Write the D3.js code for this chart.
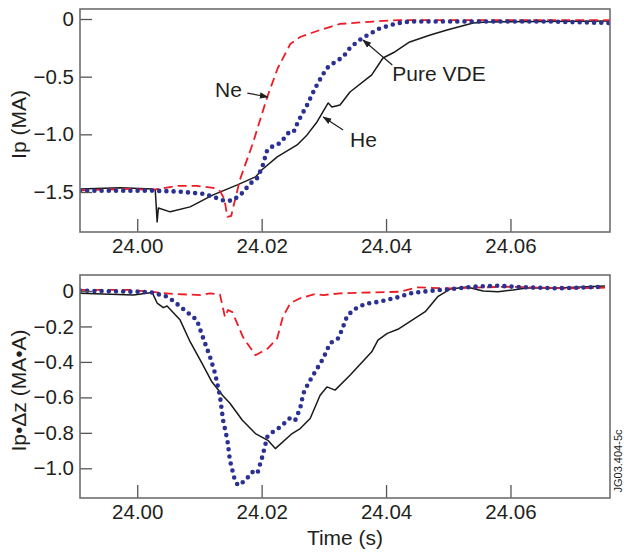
<!DOCTYPE html>
<html>
<head>
<meta charset="utf-8">
<script src="https://d3js.org/d3.v7.min.js"></script>
<style>
    body { margin: 0; background: #fff; }
    svg text { font-family: "Liberation Sans", Arial, sans-serif; fill: #231f20; }
    .axis text { font-size: 20.5px; }
    .axis line { stroke: #555; stroke-width: 1.3; }
    .axis path { display: none; }
    .axis-label { font-size: 21px; }
    .note { font-size: 21px; }
</style>
</head>
<body>
<div id="vis"></div>
<script>
    // time axis (s)
    var timeTicks = [24.00, 24.02, 24.04, 24.06];
    var ipTicks = [0, -0.5, -1.0, -1.5];
    var ipdzTicks = [0, -0.2, -0.4, -0.6, -0.8, -1.0];

    // Ip (MA), [time, value]
    var ipHe = [[23.9908,-1.473],[23.9973,-1.464],[24.0024,-1.473],[24.0029,-1.482],[24.0032,-1.759],
        [24.0034,-1.638],[24.0053,-1.672],[24.0085,-1.629],[24.0122,-1.525],[24.0161,-1.438],
        [24.0190,-1.369],[24.0201,-1.305],[24.0225,-1.196],[24.0257,-1.092],[24.0273,-1.005],
        [24.0289,-0.893],[24.0307,-0.728],[24.0313,-0.763],[24.0326,-0.745],[24.0342,-0.633],
        [24.0377,-0.485],[24.0395,-0.338],[24.0414,-0.286],[24.0438,-0.199],[24.0471,-0.139],
        [24.0498,-0.095],[24.0540,-0.035],[24.0562,-0.026],[24.0760,-0.017]];
    var ipNe = [[23.9908,-1.486],[23.9989,-1.473],[24.0024,-1.482],[24.0064,-1.447],[24.0096,-1.447],
        [24.0122,-1.464],[24.0133,-1.491],[24.0140,-1.561],[24.0145,-1.716],[24.0151,-1.708],
        [24.0165,-1.395],[24.0186,-1.075],[24.0209,-0.676],[24.0226,-0.425],[24.0246,-0.217],
        [24.0262,-0.156],[24.0294,-0.095],[24.0326,-0.043],[24.0379,-0.022],[24.0422,-0.009],
        [24.0760,-0.009]];
    var ipVde = [[23.9908,-1.490],[24.0024,-1.488],[24.0069,-1.497],[24.0106,-1.516],[24.0122,-1.542],
        [24.0141,-1.577],[24.0154,-1.573],[24.0169,-1.508],[24.0181,-1.430],[24.0193,-1.378],
        [24.0201,-1.283],[24.0209,-1.135],[24.0217,-1.106],[24.0230,-1.075],[24.0243,-0.988],
        [24.0251,-0.985],[24.0259,-0.884],[24.0273,-0.747],[24.0286,-0.599],[24.0297,-0.494],
        [24.0305,-0.425],[24.0318,-0.373],[24.0331,-0.329],[24.0342,-0.251],[24.0355,-0.191],
        [24.0366,-0.153],[24.0390,-0.081],[24.0418,-0.037],[24.0438,-0.022],[24.0663,-0.022],
        [24.0760,-0.035]];

    // Ip*dz (MA*A), [time, value]
    var ipdzHe = [[23.9908,-0.013],[23.9994,-0.023],[24.0024,-0.008],[24.0032,-0.068],[24.0042,-0.094],
        [24.0048,-0.085],[24.0069,-0.164],[24.0085,-0.286],[24.0104,-0.407],[24.0120,-0.512],
        [24.0137,-0.588],[24.0149,-0.633],[24.0169,-0.729],[24.0190,-0.804],[24.0210,-0.842],
        [24.0222,-0.889],[24.0249,-0.804],[24.0262,-0.776],[24.0278,-0.719],[24.0294,-0.588],
        [24.0305,-0.541],[24.0318,-0.559],[24.0342,-0.475],[24.0377,-0.343],[24.0387,-0.277],
        [24.0402,-0.239],[24.0419,-0.216],[24.0463,-0.117],[24.0483,-0.032],[24.0503,0.011],
        [24.0530,0.023],[24.0556,0.000],[24.0580,-0.004],[24.0604,0.006],[24.0626,0.017],
        [24.0675,0.017],[24.0752,0.028]];
    var ipdzNe = [[23.9908,0.006],[23.9989,0.006],[24.0032,-0.008],[24.0058,-0.017],[24.0104,-0.023],
        [24.0117,-0.013],[24.0133,-0.020],[24.0141,-0.147],[24.0146,-0.107],[24.0153,-0.119],
        [24.0170,-0.260],[24.0190,-0.362],[24.0210,-0.324],[24.0225,-0.267],[24.0234,-0.147],
        [24.0246,-0.069],[24.0262,-0.041],[24.0286,-0.017],[24.0299,-0.023],[24.0326,-0.013],
        [24.0422,-0.004],[24.0450,0.020],[24.0503,0.015],[24.0540,0.019],[24.0594,0.024],
        [24.0647,0.019],[24.0691,0.015],[24.0752,0.019]];
    var ipdzVde = [[23.9908,0.002],[24.0021,-0.006],[24.0048,-0.032],[24.0058,-0.056],[24.0080,-0.119],
        [24.0096,-0.164],[24.0106,-0.266],[24.0117,-0.371],[24.0125,-0.463],[24.0133,-0.593],
        [24.0138,-0.729],[24.0145,-0.842],[24.0149,-0.955],[24.0157,-1.068],[24.0162,-1.096],
        [24.0173,-1.071],[24.0185,-1.021],[24.0193,-1.030],[24.0201,-0.936],[24.0209,-0.823],
        [24.0218,-0.795],[24.0230,-0.767],[24.0246,-0.715],[24.0254,-0.729],[24.0262,-0.661],
        [24.0267,-0.578],[24.0275,-0.521],[24.0286,-0.456],[24.0299,-0.380],[24.0310,-0.295],
        [24.0323,-0.267],[24.0329,-0.220],[24.0337,-0.145],[24.0347,-0.107],[24.0366,-0.073],
        [24.0390,-0.060],[24.0418,-0.036],[24.0443,-0.010],[24.0475,0.002],[24.0503,0.010],
        [24.0540,0.024],[24.0578,0.030],[24.0620,0.021],[24.0675,0.015],[24.0752,0.024]];

    // labels with arrows in the top panel: text pos, arrow start, arrow tip
    var noteNames = ["Ne", "Pure VDE", "He"];
    var noteText = [[24.0125,-0.676],[24.0410,-0.538],[24.0342,-1.110]];
    var noteFrom = [[24.0177,-0.642],[24.0410,-0.399],[24.0331,-0.962]];
    var noteTo = [[24.0210,-0.676],[24.0363,-0.182],[24.0299,-0.850]];

    var width = 624, height = 554;
    var left = 80, right = 610;

    var svg = d3.select("#vis").append("svg")
        .attr("width", width)
        .attr("height", height);

    svg.append("defs").append("marker")
        .attr("id", "arrow")
        .attr("viewBox", "0 0 10 10")
        .attr("refX", 9).attr("refY", 5)
        .attr("markerWidth", 9).attr("markerHeight", 9)
        .attr("markerUnits", "userSpaceOnUse")
        .attr("orient", "auto")
        .append("path")
        .attr("d", "M0,1.5 L10,5 L0,8.5 Z")
        .attr("fill", "#231f20");

    var x = d3.scaleLinear().domain([23.9908, 24.0760]).range([left, right]);

    var panels = [
        {top: 9, bottom: 232, domain: [-1.8468, 0.0867], ticks: ipTicks, label: "Ip (MA)",
            series: [ipHe, ipNe, ipVde]},
        {top: 275, bottom: 498, domain: [-1.1675, 0.0902], ticks: ipdzTicks, label: "Ip\u2022\u0394z (MA\u2022A)",
            series: [ipdzHe, ipdzNe, ipdzVde]}
    ];

    var styles = [
        {color: "#1a1a1a", width: 1.5, dash: null, cap: "butt"},
        {color: "#ec1c24", width: 1.8, dash: "9,5", cap: "butt"},
        {color: "#2b3192", width: 4.6, dash: "0,7.2", cap: "round"}
    ];

    var fmt = function(d) { return d === 0 ? "0" : d3.format(".1f")(d); };

    panels.forEach(function(p, i) {
        var y = d3.scaleLinear().domain(p.domain).range([p.bottom, p.top]);
        p.y = y;

        svg.append("clipPath").attr("id", "clip" + i)
            .append("rect")
            .attr("x", left).attr("y", p.top)
            .attr("width", right - left).attr("height", p.bottom - p.top);

        var line = d3.line()
            .x(function(d) { return x(d[0]); })
            .y(function(d) { return y(d[1]); });

        p.series.forEach(function(s, k) {
            var st = styles[k];
            svg.append("path")
                .datum(s)
                .attr("clip-path", "url(#clip" + i + ")")
                .attr("fill", "none")
                .attr("stroke", st.color)
                .attr("stroke-width", st.width)
                .attr("stroke-linecap", st.cap)
                .attr("stroke-linejoin", "round")
                .attr("stroke-dasharray", st.dash)
                .attr("d", line);
        });

        svg.append("g")
            .attr("class", "axis")
            .attr("transform", "translate(0," + p.bottom + ")")
            .call(d3.axisBottom(x).tickValues(timeTicks).tickSize(-13).tickPadding(6)
                .tickFormat(d3.format(".2f")));

        svg.append("g")
            .attr("class", "axis")
            .attr("transform", "translate(" + left + ",0)")
            .call(d3.axisLeft(y).tickValues(p.ticks).tickSize(-12).tickPadding(6).tickFormat(fmt));

        svg.append("rect")
            .attr("x", left).attr("y", p.top)
            .attr("width", right - left).attr("height", p.bottom - p.top)
            .attr("fill", "none")
            .attr("stroke", "#6d6e70")
            .attr("stroke-width", 1.6);

        svg.append("text")
            .attr("class", "axis-label")
            .attr("transform", "translate(26," + ((p.top + p.bottom) / 2 + 4) + ") rotate(-90)")
            .attr("text-anchor", "middle")
            .text(p.label);
    });

    // annotations on the Ip panel
    var y0 = panels[0].y;
    noteNames.forEach(function(n, i) {
        svg.append("text")
            .attr("class", "note")
            .attr("x", x(noteText[i][0]))
            .attr("y", y0(noteText[i][1]))
            .text(n);
        svg.append("line")
            .attr("x1", x(noteFrom[i][0])).attr("y1", y0(noteFrom[i][1]))
            .attr("x2", x(noteTo[i][0])).attr("y2", y0(noteTo[i][1]))
            .attr("stroke", "#231f20")
            .attr("stroke-width", 1.2)
            .attr("marker-end", "url(#arrow)");
    });

    svg.append("text")
        .attr("class", "axis-label")
        .attr("x", (left + right) / 2 + 0)
        .attr("y", 545)
        .attr("text-anchor", "middle")
        .text("Time (s)");

    svg.append("text")
        .attr("transform", "translate(622,461) rotate(-90)")
        .attr("text-anchor", "middle")
        .style("font-size", "11px")
        .text("JG03.404-5c");
</script>
</body>
</html>
